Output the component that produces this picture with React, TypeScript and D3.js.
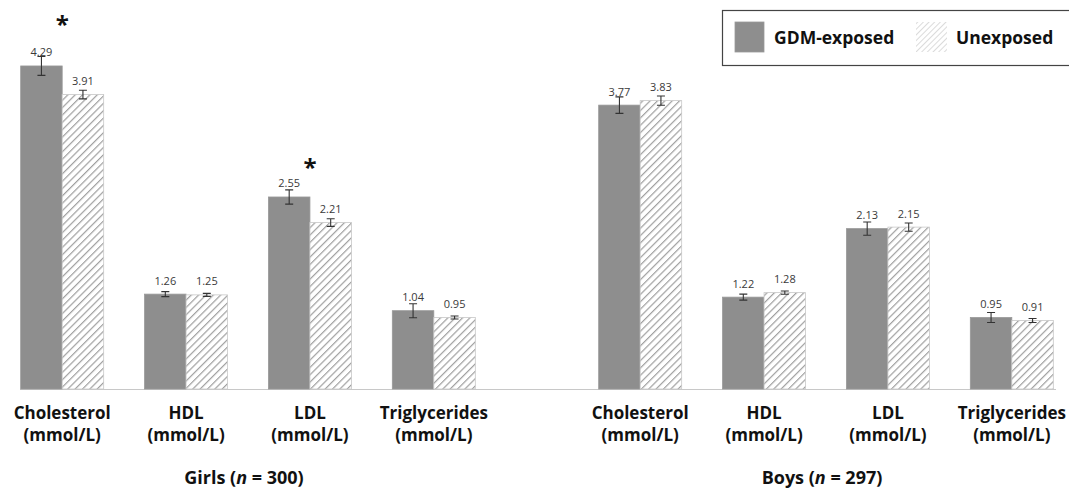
import { useEffect, useRef } from 'react';
import * as d3 from 'd3';

const groups = ['Girls', 'Boys'];
const groupN = [300, 297];
const metrics = ['Cholesterol', 'HDL', 'LDL', 'Triglycerides'];
const unitLabel = '(mmol/L)';
const series = ['GDM-exposed', 'Unexposed'];

const girlsExposed = [4.29, 1.26, 2.55, 1.04];
const girlsUnexposed = [3.91, 1.25, 2.21, 0.95];
const boysExposed = [3.77, 1.22, 2.13, 0.95];
const boysUnexposed = [3.83, 1.28, 2.15, 0.91];

const girlsExposedErr = [0.125, 0.033, 0.095, 0.093];
const girlsUnexposedErr = [0.057, 0.02, 0.05, 0.02];
const boysExposedErr = [0.11, 0.04, 0.088, 0.066];
const boysUnexposedErr = [0.062, 0.022, 0.055, 0.027];

// significant differences (girls only)
const significant = [
  { group: 'Girls', metric: 'Cholesterol' },
  { group: 'Girls', metric: 'LDL' },
];

const width = 1069,
  height = 493,
  baseline = 389,
  pxPerUnit = 75.3,
  font = "'Open Sans', 'Noto Sans', sans-serif";

export default function App() {
  const svgRef = useRef<SVGSVGElement>(null);

  const y = d3
    .scaleLinear()
    .domain([0, 1])
    .range([baseline, baseline - pxPerUnit]);

  const gx = d3.scaleOrdinal<string, number>().domain(groups).range([0, 578]);

  const x = d3
    .scaleBand()
    .domain(metrics)
    .range([0, 496])
    .paddingInner(0.33)
    .paddingOuter(0.167);

  const xs = d3
    .scaleBand()
    .domain(series)
    .range([0, x.bandwidth()]);

  const rows = [
    { group: 'Girls', series: series[0], values: girlsExposed, err: girlsExposedErr },
    { group: 'Girls', series: series[1], values: girlsUnexposed, err: girlsUnexposedErr },
    { group: 'Boys', series: series[0], values: boysExposed, err: boysExposedErr },
    { group: 'Boys', series: series[1], values: boysUnexposed, err: boysUnexposedErr },
  ];

  const bars = rows.flatMap((r) =>
    metrics.map((m, i) => ({
      group: r.group,
      series: r.series,
      metric: m,
      value: r.values[i],
      err: r.err[i],
    }))
  );

  useEffect(() => {
    const svg = d3.select(svgRef.current);
    const g = svg.select('g.bars');

    const bx = (d) => gx(d.group) + x(d.metric) + xs(d.series);

    g.selectAll('rect')
      .data(bars)
      .join('rect')
      .attr('x', bx)
      .attr('y', (d) => y(d.value))
      .attr('width', xs.bandwidth())
      .attr('height', (d) => y(0) - y(d.value))
      .attr('fill', (d) => (d.series === series[0] ? '#8e8e8e' : 'url(#hatch)'))
      .attr('stroke', (d) => (d.series === series[0] ? '#999' : '#c8c8c8'))
      .attr('stroke-width', 0.8);

    const eb = svg.select('g.err');
    const cx = (d) => bx(d) + xs.bandwidth() / 2;
    eb.selectAll('path')
      .data(bars)
      .join('path')
      .attr('d', (d) => {
        const c = cx(d),
          t = y(d.value + d.err),
          b = y(d.value - d.err);
        return `M${c - 4},${t}H${c + 4}M${c},${t}V${b}M${c - 4},${b}H${c + 4}`;
      })
      .attr('stroke', '#333')
      .attr('stroke-width', 1.1)
      .attr('fill', 'none');

    svg
      .select('g.labels')
      .selectAll('text')
      .data(bars)
      .join('text')
      .attr('x', cx)
      .attr('y', (d) => y(d.value) - 9.5)
      .attr('text-anchor', 'middle')
      .attr('font-family', font)
      .attr('font-size', 11)
      .attr('fill', '#3a3a3a')
      .text((d) => d.value.toFixed(2));

    svg
      .select('g.stars')
      .selectAll('text')
      .data(significant)
      .join('text')
      .attr('x', (d) => gx(d.group) + x(d.metric) + x.bandwidth() / 2)
      .attr('y', (d) => {
        const i = metrics.indexOf(d.metric);
        return y(girlsExposed[i] + girlsExposedErr[i]) - 14 - (i === 0 ? 10 : 0);
      })
      .attr('text-anchor', 'middle')
      .attr('font-family', font)
      .attr('font-weight', 'bold')
      .attr('font-size', 24)
      .attr('fill', '#111')
      .text('*');

    // category labels, two lines each
    const catData = groups.flatMap((gr) => metrics.map((m) => ({ group: gr, metric: m })));
    const catX = (d) => gx(d.group) + x(d.metric) + x.bandwidth() / 2;
    const cat = svg.select('g.cats');
    [0, 1].forEach((line) => {
      cat
        .selectAll(`text.l${line}`)
        .data(catData)
        .join('text')
        .attr('class', `l${line}`)
        .attr('x', catX)
        .attr('y', 419 + line * 22)
        .attr('text-anchor', 'middle')
        .attr('font-family', font)
        .attr('font-weight', 'bold')
        .attr('font-size', 17)
        .attr('fill', '#111')
        .text((d) => (line === 0 ? d.metric : unitLabel));
    });

    const titles = svg.select('g.titles');
    titles
      .selectAll('text')
      .data(groups)
      .join('text')
      .attr('x', (d) => gx(d) + 244)
      .attr('y', 484)
      .attr('text-anchor', 'middle')
      .attr('font-family', font)
      .attr('font-weight', 'bold')
      .attr('font-size', 18)
      .attr('fill', '#111')
      .each(function (d, i) {
        const t = d3.select(this);
        t.selectAll('tspan').remove();
        t.append('tspan').text(`${d} (`);
        t.append('tspan').attr('font-style', 'italic').text('n');
        t.append('tspan').text(` = ${groupN[i]})`);
      });
  }, []);

  return (
    <div style={{ position: 'absolute', left: 0, top: 0 }}>
      <svg ref={svgRef} width={width} height={height} style={{ display: 'block', background: '#fff' }}>
        <defs>
          <pattern id="hatch" patternUnits="userSpaceOnUse" width="5.2" height="5.2" patternTransform="rotate(45)">
            <rect width="5.2" height="5.2" fill="#fff" />
            <line x1="0" y1="0" x2="0" y2="5.2" stroke="#a0a0a0" strokeWidth="2.4" />
          </pattern>
          <pattern id="hatchLight" patternUnits="userSpaceOnUse" width="4" height="4" patternTransform="rotate(45)">
            <rect width="4" height="4" fill="#fff" />
            <line x1="0" y1="0" x2="0" y2="4" stroke="#d0d0d0" strokeWidth="1.5" />
          </pattern>
        </defs>
        <line x1={20} x2={1056} y1={baseline + 0.5} y2={baseline + 0.5} stroke="#c8c8c8" strokeWidth={1.2} />
        <g className="bars" />
        <g className="err" />
        <g className="labels" />
        <g className="stars" />
        <g className="cats" />
        <g className="titles" />
        <g className="legend">
          <rect x={722.5} y={10.5} width={360} height={55} fill="#fff" stroke="#444" strokeWidth={1.2} />
          <rect x={735} y={22} width={29} height={30} fill="#8e8e8e" stroke="#999" strokeWidth={0.8} />
          <text x={774} y={43.5} fontFamily={font} fontWeight="bold" fontSize={17.5} fill="#111">
            {series[0]}
          </text>
          <rect x={916} y={22} width={31} height={30} fill="url(#hatchLight)" />
          <text x={956} y={43.5} fontFamily={font} fontWeight="bold" fontSize={17.5} fill="#111">
            {series[1]}
          </text>
        </g>
      </svg>
    </div>
  );
}
